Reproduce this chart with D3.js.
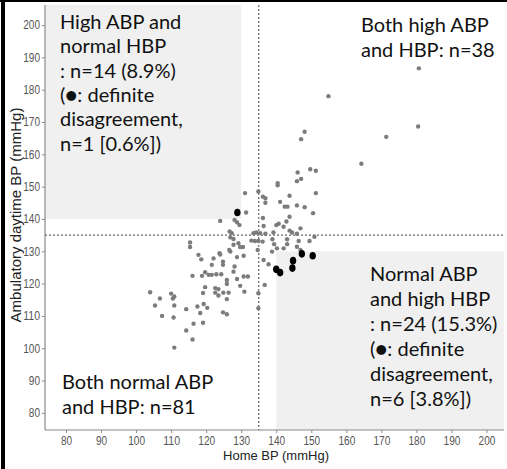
<!DOCTYPE html>
<html>
<head>
<meta charset="utf-8">
<script src="https://cdn.jsdelivr.net/npm/d3@7"></script>
<style>
  body { margin: 0; background: #fff; }
  svg { display: block; }
</style>
</head>
<body>
<svg id="chart" width="507" height="469"></svg>
<script>
// home BP (x) and ambulatory daytime BP (y), mmHg
const grayPoints = [
  [180.7,186.6],[154.9,178.0],[180.5,168.6],[171.4,165.4],[148.1,167.0],[147.1,164.7],[164.3,157.1],
  [149.7,155.4],[151.3,154.9],[146.1,154.4],[145.9,151.7],[147.1,152.4],[140.4,151.1],[140.4,150.4],
  [134.9,148.5],[131.1,148.0],[136.2,146.9],[136.9,146.4],[136.9,145.0],[143.8,147.2],[151.3,148.0],
  [141.1,145.3],[142.4,143.8],[143.2,143.8],[145.9,144.2],[148.1,143.6],[150.5,141.8],[131.4,142.0],
  [124.0,139.4],[128.1,139.7],[128.8,139.0],[129.5,138.1],[136.2,140.3],[136.4,137.8],[143.8,140.7],
  [142.9,139.2],[140.0,138.1],[140.7,138.5],[142.1,137.6],[146.9,137.1],[143.8,136.4],[144.5,135.8],
  [126.7,136.1],[127.3,135.6],[133.5,135.6],[134.3,135.8],[135.4,135.6],[136.9,135.4],[139.2,135.8],
  [150.9,134.5],[145.9,135.4],[126.9,134.3],[127.8,133.8],[132.9,133.3],[133.9,133.2],[134.9,133.2],
  [136.1,133.0],[138.9,133.7],[143.1,133.7],[146.4,133.2],[149.5,133.2],[115.4,132.7],[115.4,131.3],
  [127.8,132.0],[129.2,132.5],[129.7,131.3],[130.5,131.3],[139.4,132.2],[143.1,132.2],[140.2,130.9],
  [142.1,130.9],[126.6,130.4],[126.9,129.9],[134.7,130.4],[146.9,130.4],[145.9,131.4],[123.8,129.4],
  [117.8,128.9],[118.6,127.5],[122.1,127.8],[124.0,129.0],[128.8,128.2],[130.7,128.6],[124.8,126.8],
  [124.8,125.8],[121.6,125.8],[128.1,125.3],[136.4,127.3],[137.8,126.0],[138.8,129.9],[119.7,123.5],
  [116.1,122.4],[118.8,122.4],[120.7,122.7],[121.6,122.7],[122.9,122.9],[124.3,122.9],[127.8,123.7],
  [130.7,122.2],[131.9,122.2],[128.8,121.4],[125.9,121.1],[125.9,119.9],[136.7,119.6],[119.7,118.9],
  [119.1,117.1],[122.6,118.6],[123.5,118.3],[122.6,117.2],[124.9,117.2],[126.4,117.2],[129.7,119.3],
  [130.9,117.5],[123.5,116.3],[125.9,115.2],[134.9,117.0],[104.0,117.3],[106.8,115.4],[110.0,116.9],
  [110.9,116.0],[110.5,115.4],[105.4,113.2],[110.9,113.2],[114.3,112.1],[117.5,112.9],[119.3,113.7],
  [120.3,112.5],[118.3,110.9],[107.4,110.0],[110.7,109.5],[116.4,107.6],[119.1,107.9],[114.3,105.5],
  [116.1,102.7],[110.9,100.2],[124.8,111.1],[125.9,110.5],[134.9,112.4]
];
// definite disagreement
const blackPoints = [
  [128.9,142.0],[140.0,124.4],[141.1,123.4],[144.6,124.8],[144.8,127.1],[147.3,129.2],[150.4,128.6]
];
const xTicks = [80, 90, 100, 110, 120, 130, 140, 150, 160, 170, 180, 190, 200];
const yTicks = [80, 90, 100, 110, 120, 130, 140, 150, 160, 170, 180, 190, 200];
const cutoffs = {home: 135, amb: 135};
// shaded regions: [x0, x1, y0, y1] in mmHg (null = plot edge)
const shadeRegions = [[null, 130, 140, null], [140, null, null, 130]];
const labelTopLeft = ["High ABP and", "normal HBP", ": n=14 (8.9%)", "(\u25CF: definite", "disagreement,", "n=1 [0.6%])"];
const labelTopRight = ["Both high ABP", "and HBP: n=38"];
const labelBottomRight = ["Normal ABP", "and high HBP", ": n=24 (15.3%)", "(\u25CF: definite", "disagreement,", "n=6 [3.8%])"];
const labelBottomLeft = ["Both normal ABP", "and HBP: n=81"];

const svg = d3.select("#chart");
const pLeft = 45, pRight = 504, pTop = 5, pBottom = 430;

const x = d3.scaleLinear().domain([74, 205]).range([pLeft, pRight]);
const y = d3.scaleLinear().domain([74.7, 206.2]).range([pBottom, pTop]);

// shading
svg.append("g").selectAll("rect").data(shadeRegions).enter().append("rect")
    .attr("x", function (d) { return d[0] == null ? pLeft : x(d[0]); })
    .attr("width", function (d) { return (d[1] == null ? pRight : x(d[1])) - (d[0] == null ? pLeft : x(d[0])); })
    .attr("y", function (d) { return d[3] == null ? pTop : y(d[3]); })
    .attr("height", function (d) { return (d[2] == null ? pBottom : y(d[2])) - (d[3] == null ? pTop : y(d[3])); })
    .attr("fill", "#f0f0f0");

// axes
const xAxis = svg.append("g").attr("transform", "translate(0," + pBottom + ")")
    .call(d3.axisBottom(x).tickValues(xTicks).tickSize(3).tickPadding(3));
const yAxis = svg.append("g").attr("transform", "translate(" + pLeft + ",0)")
    .call(d3.axisLeft(y).tickValues(yTicks).tickSize(3).tickPadding(2));
[xAxis, yAxis].forEach(function (a) {
    a.select(".domain").attr("stroke", "#8a8a8a").attr("stroke-width", 1.2);
    a.selectAll(".tick line").attr("stroke", "#8a8a8a");
    // narrow digits like the original's condensed tick font
    a.selectAll(".tick text").attr("fill", "#555").attr("font-size", 12)
        .attr("font-family", "'Liberation Sans', Arial, sans-serif")
        .attr("textLength", function (d) { return String(d).length * 5.6; })
        .attr("lengthAdjust", "spacingAndGlyphs");
});
yAxis.select(".domain").attr("d", "M0," + pTop + "V" + pBottom);
xAxis.select(".domain").attr("d", "M" + pLeft + ",0H" + pRight);

// cutoff lines
svg.append("line").attr("x1", x(cutoffs.home)).attr("x2", x(cutoffs.home)).attr("y1", pTop).attr("y2", pBottom)
    .attr("stroke", "#666").attr("stroke-width", 1.2).attr("stroke-dasharray", "2,2");
svg.append("line").attr("x1", pLeft).attr("x2", pRight).attr("y1", y(cutoffs.amb)).attr("y2", y(cutoffs.amb))
    .attr("stroke", "#666").attr("stroke-width", 1.2).attr("stroke-dasharray", "2,2");

// points
svg.append("g").selectAll("circle").data(grayPoints).enter().append("circle")
    .attr("cx", function (d) { return x(d[0]); })
    .attr("cy", function (d) { return y(d[1]); })
    .attr("r", 2.2).attr("fill", "#7c7c7c");
svg.append("g").selectAll("ellipse").data(blackPoints).enter().append("ellipse")
    .attr("cx", function (d) { return x(d[0]); })
    .attr("cy", function (d) { return y(d[1]); })
    .attr("rx", 3.2).attr("ry", 3.8).attr("fill", "#000");

// axis titles
svg.append("text").attr("x", 276).attr("y", 460).attr("text-anchor", "middle")
    .attr("font-family", "'Liberation Sans', Arial, sans-serif").attr("font-size", 13).attr("fill", "#222")
    .text("Home BP (mmHg)");
svg.append("text").attr("transform", "translate(21,215) rotate(-90)").attr("text-anchor", "middle")
    .attr("font-family", "'Liberation Sans', Arial, sans-serif").attr("font-size", 15).attr("fill", "#222")
    .text("Ambulatory daytime BP (mmHg)");

// quadrant labels
function block(lines, x0, y0, step) {
    svg.append("g").selectAll("text").data(lines).enter().append("text")
        .attr("x", x0).attr("y", function (d, i) { return y0 + i * step; })
        .attr("font-family", "Lato, 'Noto Sans', sans-serif").attr("font-size", 20).attr("fill", "#111")
        .text(function (d) { return d; });
}
block(labelTopLeft, 60, 29, 24.3);
block(labelTopRight, 361, 32, 25);
block(labelBottomRight, 370, 281, 25);
block(labelBottomLeft, 62, 389, 25);

// frame edges
svg.append("rect").attr("x", 1).attr("y", 0).attr("width", 4).attr("height", 469).attr("fill", "#000");
svg.append("rect").attr("x", 0).attr("y", 0).attr("width", 507).attr("height", 2).attr("fill", "#000");
</script>
</body>
</html>
